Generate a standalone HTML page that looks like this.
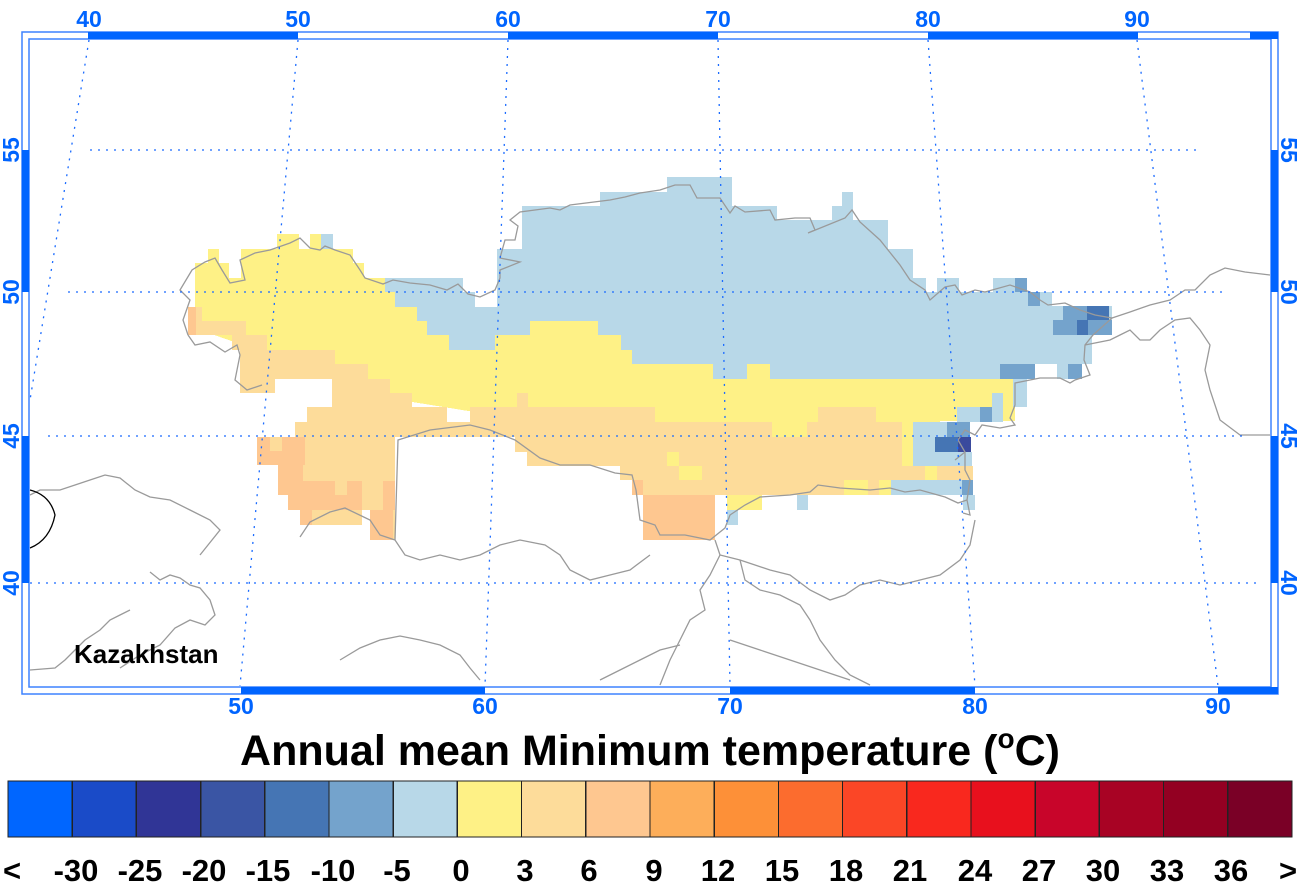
<!DOCTYPE html>
<html><head><meta charset="utf-8"><style>
body{margin:0;background:#fff;width:1300px;height:888px;overflow:hidden;font-family:"Liberation Sans",sans-serif}
svg{position:absolute;left:0;top:0}
</style></head><body>
<svg width="1300" height="888" viewBox="0 0 1300 888" xmlns="http://www.w3.org/2000/svg">
<g shape-rendering="crispEdges">
<polygon fill="#b8d8e8" points="385,278 463,278 463,292 475,292 475,307 497,307 497,249 522,249 522,206 600,206 600,192 667,192 667,177 732,177 732,206 777,206 777,220 832,220 832,206 842,206 842,192 853,192 853,220 888,220 888,249 913,249 913,278 926,278 926,292 937,292 937,278 959,278 959,292 993,292 993,278 1027,278 1027,292 1052,292 1052,306 1112,306 1112,335 1092,335 1092,364 1082,364 1082,379 1057,379 1057,364 1035,364 1035,379 1027,379 1027,407 1000,407 1000,380 385,380"/>
<polygon fill="#fef186" points="195,307 195,263 208,263 208,249 219,249 219,263 229,263 229,278 241,278 241,249 277,249 277,234 299,234 299,249 310,249 310,234 321,234 321,249 353,249 353,263 364,263 364,278 385,278 385,292 395,292 395,307 417,307 417,321 427,321 427,335 449,335 449,350 495,350 495,335 530,335 530,321 598,321 598,335 621,335 621,350 632,350 632,364 713,364 713,379 747,379 747,364 770,364 770,379 1015,379 1015,421 940,421 940,466 630,466 630,437 400,400 200,330"/>
<rect x="321" y="234" width="12" height="15" fill="#b8d8e8"/>
<polygon fill="#fddc9a" points="188,307 202,307 202,321 246,321 246,335 267,335 267,350 335,350 335,364 368,364 368,379 390,379 390,393 412,393 412,407 447,407 447,422 470,422 470,407 517,407 517,393 528,393 528,407 655,407 655,422 772,422 772,437 807,437 807,422 818,422 818,407 876,407 876,422 902,422 902,466 973,466 973,495 715,495 715,540 643,540 643,495 632,495 632,480 620,480 620,466 527,466 527,452 515,452 515,437 395,437 395,540 370,540 370,510 362,510 362,525 300,525 300,510 288,510 288,495 278,495 278,465 257,465 257,437 295,437 295,422 307,422 307,407 332,407 332,379 275,379 275,393 240,393 240,350 232,350 232,335 188,335"/>
<g fill="#fec790">
<polygon points="257,437 270,437 270,451 282,451 282,437 305,437 305,465 303,465 303,481 362,481 362,510 312,510 312,525 300,525 300,510 288,510 288,495 278,495 278,465 257,465"/>
<rect x="370" y="510" width="23" height="30"/><rect x="383" y="481" width="12" height="29"/>
<rect x="643" y="495" width="72" height="45"/><rect x="632" y="480" width="11" height="15"/>
<rect x="188" y="307" width="8" height="28"/>
</g>
<rect x="335" y="481" width="12" height="14" fill="#fddc9a"/>
<g fill="#fef186">
<rect x="667" y="452" width="12" height="14"/><rect x="679" y="466" width="23" height="14"/>
<rect x="844" y="480" width="24" height="15"/><rect x="879" y="480" width="12" height="15"/>
<rect x="727" y="495" width="35" height="15"/><rect x="925" y="466" width="12" height="14"/>
<rect x="902" y="436" width="11" height="30"/><rect x="1003" y="379" width="12" height="42"/>
<rect x="980" y="379" width="23" height="14"/>
</g>
<g fill="#b8d8e8">
<rect x="891" y="480" width="71" height="15"/><rect x="797" y="495" width="11" height="15"/>
<rect x="727" y="510" width="11" height="15"/><rect x="963" y="495" width="12" height="15"/>
<rect x="913" y="452" width="59" height="14"/><rect x="913" y="422" width="22" height="30"/>
<rect x="935" y="422" width="12" height="15"/><rect x="957" y="407" width="23" height="15"/>
<rect x="992" y="393" width="11" height="29"/><rect x="1013" y="379" width="14" height="28"/>
<rect x="1040" y="292" width="12" height="14"/>
</g>
<g fill="#74a3cc">
<rect x="962" y="480" width="11" height="15"/><rect x="947" y="422" width="23" height="15"/>
<rect x="980" y="407" width="12" height="15"/><rect x="1000" y="364" width="35" height="15"/>
<rect x="1068" y="364" width="14" height="15"/><rect x="1063" y="306" width="24" height="14"/>
<rect x="1053" y="320" width="24" height="15"/><rect x="1088" y="320" width="24" height="15"/>
<rect x="1015" y="278" width="12" height="14"/><rect x="1028" y="292" width="12" height="14"/>
</g>
<g fill="#4575b4">
<rect x="935" y="437" width="23" height="15"/><rect x="1087" y="306" width="22" height="14"/>
<rect x="1077" y="320" width="11" height="15"/>
</g>
<rect x="958" y="437" width="13" height="15" fill="#3a4a9d"/>
</g>
<g fill="none" stroke="#9a9a9a" stroke-width="1.3">
<path d="M188,335 L183,320 190,300 180,290 192,270 205,262 215,258 222,270 230,283 245,280 240,260 255,253 270,250 290,243 300,238 310,248 320,250 325,246 335,250 350,255 360,270 365,278 383,284 393,280 410,283 430,285 447,290 458,284 468,294 480,297 495,290 500,278 500,270 520,262 500,258 505,240 515,240 518,226 510,220 520,212 550,208 560,210 570,205 610,200 625,197 640,193 660,190 675,185 690,185 697,198 720,198 730,213 735,206 745,212 770,210 775,220 795,218 810,218 815,230 808,233 845,218 852,210 860,222 880,240 900,265 910,280 925,290 930,300 945,287 955,285 962,295 975,290 985,292 1010,285 1030,292 1040,300 1048,305 1065,303 1080,310 1095,315 1112,318 1093,335 1085,345 1084,360 1090,375 1075,380 1070,383 1060,378 1040,378 1015,383 1015,405 1010,418 1015,425 1000,428 982,425 975,435 965,430 958,440 965,452 965,470 970,480 967,500 970,515 963,513"/>
<path d="M1112,318 L1130,312 1150,305 1170,300 1185,290 1195,290 1210,275 1225,268 1245,272 1270,275"/>
<path d="M1085,345 L1110,340 1120,335 1130,330 1140,340 1150,340 1160,330 1175,320 1190,318 1200,330 1210,345 1205,370 1210,390 1220,420 1240,435 1270,435"/>
<path d="M965,452 L955,460"/>
<path d="M188,335 L195,345 210,342 225,352 237,345 240,355 235,380 247,390 262,385"/>
<path d="M395,540 L398,440 430,430 470,425 490,430 515,440 540,458 560,465 590,465 615,473 632,475 636,490 640,520 655,525 660,535 685,535 710,540 725,528 730,515 745,505 760,497 790,495 810,492 818,485 840,488 870,490 890,488 905,492 920,490 945,497 958,503 967,500"/>
<path d="M395,540 L380,535 370,520 345,508 330,512 310,522 300,537"/>
<path d="M120,668 L140,655 160,645 175,628 190,620 205,625 215,615 210,600 200,588 190,585 180,578 170,575 160,580 150,572"/>
<path d="M30,670 L55,668 65,660 75,650 85,640 100,630 110,620 120,615 130,610"/>
<path d="M30,495 L40,490 60,490 75,485 90,480 105,475 120,478 135,490 150,497 170,500 190,510 210,520 220,530 208,545 200,555"/>
<path d="M395,540 L405,555 420,560 440,555 460,560 480,555 500,545 520,540 545,545 560,555 570,570 590,580 610,575 630,570 650,555"/>
<path d="M340,660 L360,648 380,640 400,636 420,640 440,645 460,655 470,668 480,680"/>
<path d="M715,540 L720,555 740,560 755,565 770,570 790,575 810,590 830,600 845,595 860,585 880,580 900,585 920,580 940,575 960,560 970,545 975,520"/>
<path d="M720,555 L710,575 700,590 705,610 690,620 680,640 670,660 660,685"/>
<path d="M740,560 L745,580 760,590 780,595 800,605 810,620 820,640 835,660 850,675 870,685"/>
<path d="M600,680 L620,670 640,660 660,650 680,645"/>
<path d="M730,640 L760,650 790,660 820,670 850,680"/>
</g>
<path d="M30,490 Q50,495 55,515 Q50,540 30,548" fill="none" stroke="#000" stroke-width="1.3"/>
<g fill="none" stroke="#1a6bff" stroke-width="1.3" stroke-dasharray="2,6">
<line x1="90" y1="150" x2="1200" y2="150"/>
<line x1="68" y1="292" x2="1222" y2="292"/>
<line x1="48" y1="436" x2="1245" y2="436"/>
<line x1="30" y1="583" x2="1262" y2="583"/>
<line x1="89" y1="40" x2="30" y2="400"/>
<line x1="298" y1="40" x2="240" y2="686"/>
<line x1="508" y1="40" x2="485" y2="686"/>
<line x1="718" y1="40" x2="730" y2="686"/>
<line x1="928" y1="40" x2="975" y2="686"/>
<line x1="1137" y1="40" x2="1218" y2="686"/>
</g>
<g fill="none" stroke="#3d82ff" stroke-width="1.5">
<rect x="22" y="32" width="1256" height="662"/>
<rect x="29" y="39" width="1242" height="648"/>
</g>
<g fill="#0064ff">
<rect x="88" y="32" width="210" height="7"/><rect x="508" y="32" width="210" height="7"/><rect x="928" y="32" width="210" height="7"/><rect x="1250" y="32" width="28" height="7"/>
<rect x="241" y="687" width="244" height="7"/><rect x="730" y="687" width="245" height="7"/><rect x="1218" y="687" width="60" height="7"/>
<rect x="22" y="150" width="7" height="142"/><rect x="22" y="436" width="7" height="147"/>
<rect x="1271" y="150" width="7" height="142"/><rect x="1271" y="436" width="7" height="147"/>
</g>
<g fill="#0064ff" font-family="Liberation Sans, sans-serif" font-weight="bold" font-size="23" text-anchor="middle">
<text x="89" y="27">40</text><text x="298" y="27">50</text><text x="508" y="27">60</text><text x="718" y="27">70</text><text x="928" y="27">80</text><text x="1137" y="27">90</text>
<text x="241" y="714">50</text><text x="485" y="714">60</text><text x="730" y="714">70</text><text x="975" y="714">80</text><text x="1218" y="714">90</text>
<text transform="translate(19,150) rotate(-90)">55</text><text transform="translate(19,292) rotate(-90)">50</text><text transform="translate(19,436) rotate(-90)">45</text><text transform="translate(19,583) rotate(-90)">40</text>
<text transform="translate(1281,150) rotate(90)">55</text><text transform="translate(1281,292) rotate(90)">50</text><text transform="translate(1281,436) rotate(90)">45</text><text transform="translate(1281,583) rotate(90)">40</text>
</g>
<text x="74" y="663" font-family="Liberation Sans, sans-serif" font-weight="bold" font-size="26" fill="#000">Kazakhstan</text>
<text x="650" y="765" font-family="Liberation Sans, sans-serif" font-weight="bold" font-size="43" text-anchor="middle" fill="#000">Annual mean Minimum temperature (<tspan font-size="28" dy="-17">o</tspan><tspan dy="17">C)</tspan></text>
<g stroke="#222" stroke-width="1.3" shape-rendering="crispEdges">
<rect x="8" y="781" width="64.2" height="56" fill="#0066ff"/>
<rect x="72.2" y="781" width="64.2" height="56" fill="#1a4bc8"/>
<rect x="136.4" y="781" width="64.2" height="56" fill="#303596"/>
<rect x="200.6" y="781" width="64.2" height="56" fill="#3a55a4"/>
<rect x="264.8" y="781" width="64.2" height="56" fill="#4575b4"/>
<rect x="329" y="781" width="64.2" height="56" fill="#74a3cc"/>
<rect x="393.2" y="781" width="64.2" height="56" fill="#b8d8e8"/>
<rect x="457.4" y="781" width="64.2" height="56" fill="#fef186"/>
<rect x="521.6" y="781" width="64.2" height="56" fill="#fddc9a"/>
<rect x="585.8" y="781" width="64.2" height="56" fill="#fec790"/>
<rect x="650" y="781" width="64.2" height="56" fill="#fdae5a"/>
<rect x="714.2" y="781" width="64.2" height="56" fill="#fd9038"/>
<rect x="778.4" y="781" width="64.2" height="56" fill="#fc6c2e"/>
<rect x="842.6" y="781" width="64.2" height="56" fill="#fb4626"/>
<rect x="906.8" y="781" width="64.2" height="56" fill="#f9281e"/>
<rect x="971" y="781" width="64.2" height="56" fill="#e8101d"/>
<rect x="1035.2" y="781" width="64.2" height="56" fill="#c8052a"/>
<rect x="1099.4" y="781" width="64.2" height="56" fill="#a80324"/>
<rect x="1163.6" y="781" width="64.2" height="56" fill="#930022"/>
<rect x="1227.8" y="781" width="64.2" height="56" fill="#7a0026"/>
</g>
<g font-family="Liberation Sans, sans-serif" font-weight="bold" font-size="31" text-anchor="middle" fill="#000">
<text x="12" y="881">&lt;</text>
<text x="76" y="881">-30</text><text x="140" y="881">-25</text><text x="204" y="881">-20</text><text x="268" y="881">-15</text><text x="333" y="881">-10</text><text x="397" y="881">-5</text><text x="461" y="881">0</text><text x="525" y="881">3</text><text x="589" y="881">6</text><text x="654" y="881">9</text><text x="718" y="881">12</text><text x="782" y="881">15</text><text x="846" y="881">18</text><text x="910" y="881">21</text><text x="975" y="881">24</text><text x="1039" y="881">27</text><text x="1103" y="881">30</text><text x="1167" y="881">33</text><text x="1231" y="881">36</text>
<text x="1288" y="881">&gt;</text>
</g>
</svg>
</body></html>
